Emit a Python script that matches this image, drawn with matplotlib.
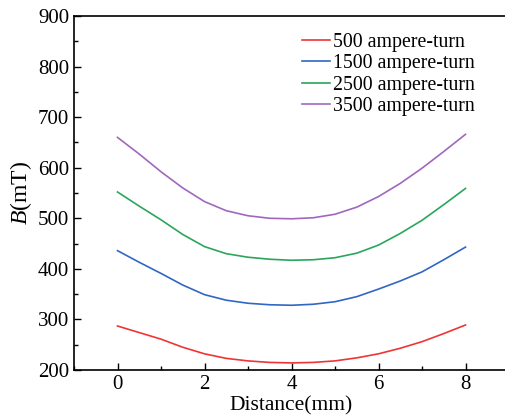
import matplotlib
matplotlib.use('Agg')
import matplotlib.pyplot as plt
from matplotlib.ticker import MultipleLocator

# Distance along the gap (mm)
distance = [0, 0.5, 1, 1.5, 2, 2.5, 3, 3.5, 4, 4.5, 5, 5.5, 6, 6.5, 7, 7.5, 8]

# Flux density B (mT) for each excitation
b_500 = [287, 274, 261, 245, 232, 223, 218, 215, 214, 215, 218, 224, 232, 243, 256, 272, 289]
b_1500 = [436, 413, 391, 368, 349, 338, 332, 329, 328, 330, 335, 345, 360, 376, 394, 418, 443]
b_2500 = [552, 524, 497, 468, 444, 430, 423, 419, 417, 418, 422, 431, 447, 470, 496, 527, 559]
b_3500 = [660, 627, 592, 560, 533, 515, 505, 500, 499, 501, 508, 522, 543, 569, 599, 632, 666]

labels = ['500 ampere-turn', '1500 ampere-turn', '2500 ampere-turn', '3500 ampere-turn']
colors = ['#ee3535', '#3067c4', '#2aa65c', '#9f68bd']

plt.rcParams['font.family'] = ['Liberation Serif', 'DejaVu Serif']
plt.rcParams['mathtext.fontset'] = 'custom'
plt.rcParams['mathtext.it'] = 'Liberation Serif:italic'
plt.rcParams['mathtext.rm'] = 'Liberation Serif'

fig = plt.figure(figsize=(5.05, 4.19), dpi=100)
ax = fig.add_axes([74 / 505, 1 - 370 / 419, (509 - 74) / 505, (370 - 16) / 419])

for series, lab, col in zip([b_500, b_1500, b_2500, b_3500], labels, colors):
    ax.plot(distance, series, color=col, lw=1.2, label=lab,
            solid_joinstyle='round')

ax.set_xlim(-1, 9)
ax.set_ylim(200, 900)
ax.xaxis.set_major_locator(MultipleLocator(2))
ax.xaxis.set_minor_locator(MultipleLocator(1))
ax.yaxis.set_major_locator(MultipleLocator(100))
ax.yaxis.set_minor_locator(MultipleLocator(50))
ax.tick_params(which='both', direction='in', labelsize=15, width=1.0)
ax.tick_params(which='major', length=5)
ax.tick_params(which='minor', length=3)
ax.set_xticks([0, 2, 4, 6, 8])
ax.spines['right'].set_visible(False)
for sp in ['left', 'bottom', 'top']:
    ax.spines[sp].set_linewidth(1.2)

ax.set_xlabel('Distance(mm)', fontsize=15.5, labelpad=2)
ax.set_ylabel(r'$B$(mT)', fontsize=17, labelpad=3)

ax.legend(loc='upper left', bbox_to_anchor=(302 / 505, 1 - 33 / 419),
          bbox_transform=fig.transFigure, frameon=False, fontsize=14.3,
          handlelength=1.4, handletextpad=0.15, labelspacing=0.12,
          borderaxespad=0, borderpad=0)

fig.savefig('out.png', dpi=100)
